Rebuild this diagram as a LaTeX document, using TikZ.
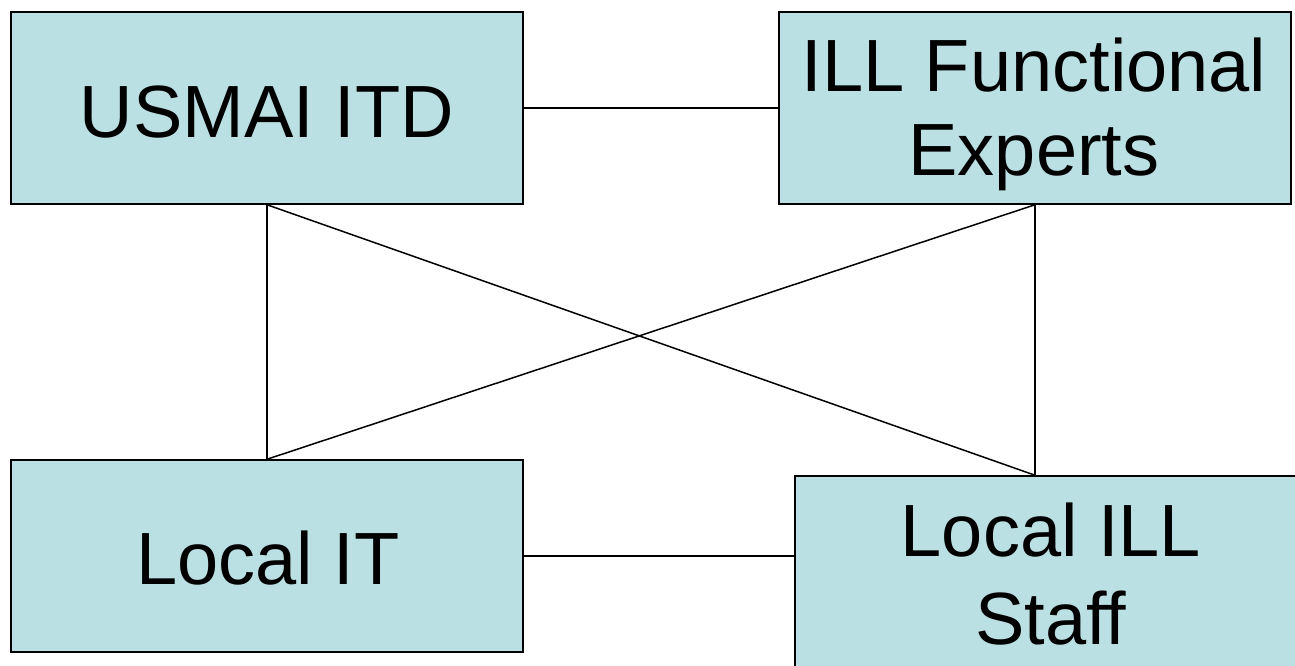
\documentclass[tikz,border=0pt]{standalone}
\usepackage{fontspec}
\setmainfont{Liberation Sans}
\definecolor{boxfill}{HTML}{BBE0E3}
\begin{document}
\begin{tikzpicture}[x=1pt,y=-1pt,
  box/.style={draw=black,fill=boxfill,line width=1.5pt,inner sep=0pt,
    minimum width=512pt,minimum height=192pt},
  txt/.style={inner sep=0pt,anchor=base,font=\fontsize{74}{84}\selectfont},
  link/.style={draw=black,line width=1.5pt}]
\useasboundingbox (0,0) rectangle (1295,665);
\clip (0,0) rectangle (1295,665);
\fill[white] (0,0) rectangle (1295,665);
\node[box] (usmai) at (267,108) {};
\node[box] (ill) at (1035,108) {};
\node[box] (localit) at (267,556) {};
\node[box] (localill) at (1051,572) {};
\node[txt] (usmaiT) at (267,137) {USMAI ITD};
\node[txt] (illT1) at (1034,91) {ILL Functional};
\node[txt] (illT2) at (1034,175) {Experts};
\node[txt] (localitT) at (268,584) {Local IT};
\node[txt] (localillT1) at (1051,556) {Local ILL};
\node[txt] (localillT2) at (1051,644) {Staff};
\coordinate (illtop) at (ill.south |- localill.north);
\draw[link] (usmai.east) -- (ill.west);
\draw[link] (usmai.south) -- (localit.north);
\draw[link] (ill.south) -- (illtop);
\draw[link] (usmai.south) -- (illtop);
\draw[link] (ill.south) -- (localit.north);
\draw[link] (localit.east) -- (localit.east -| localill.west);
\end{tikzpicture}
\end{document}
